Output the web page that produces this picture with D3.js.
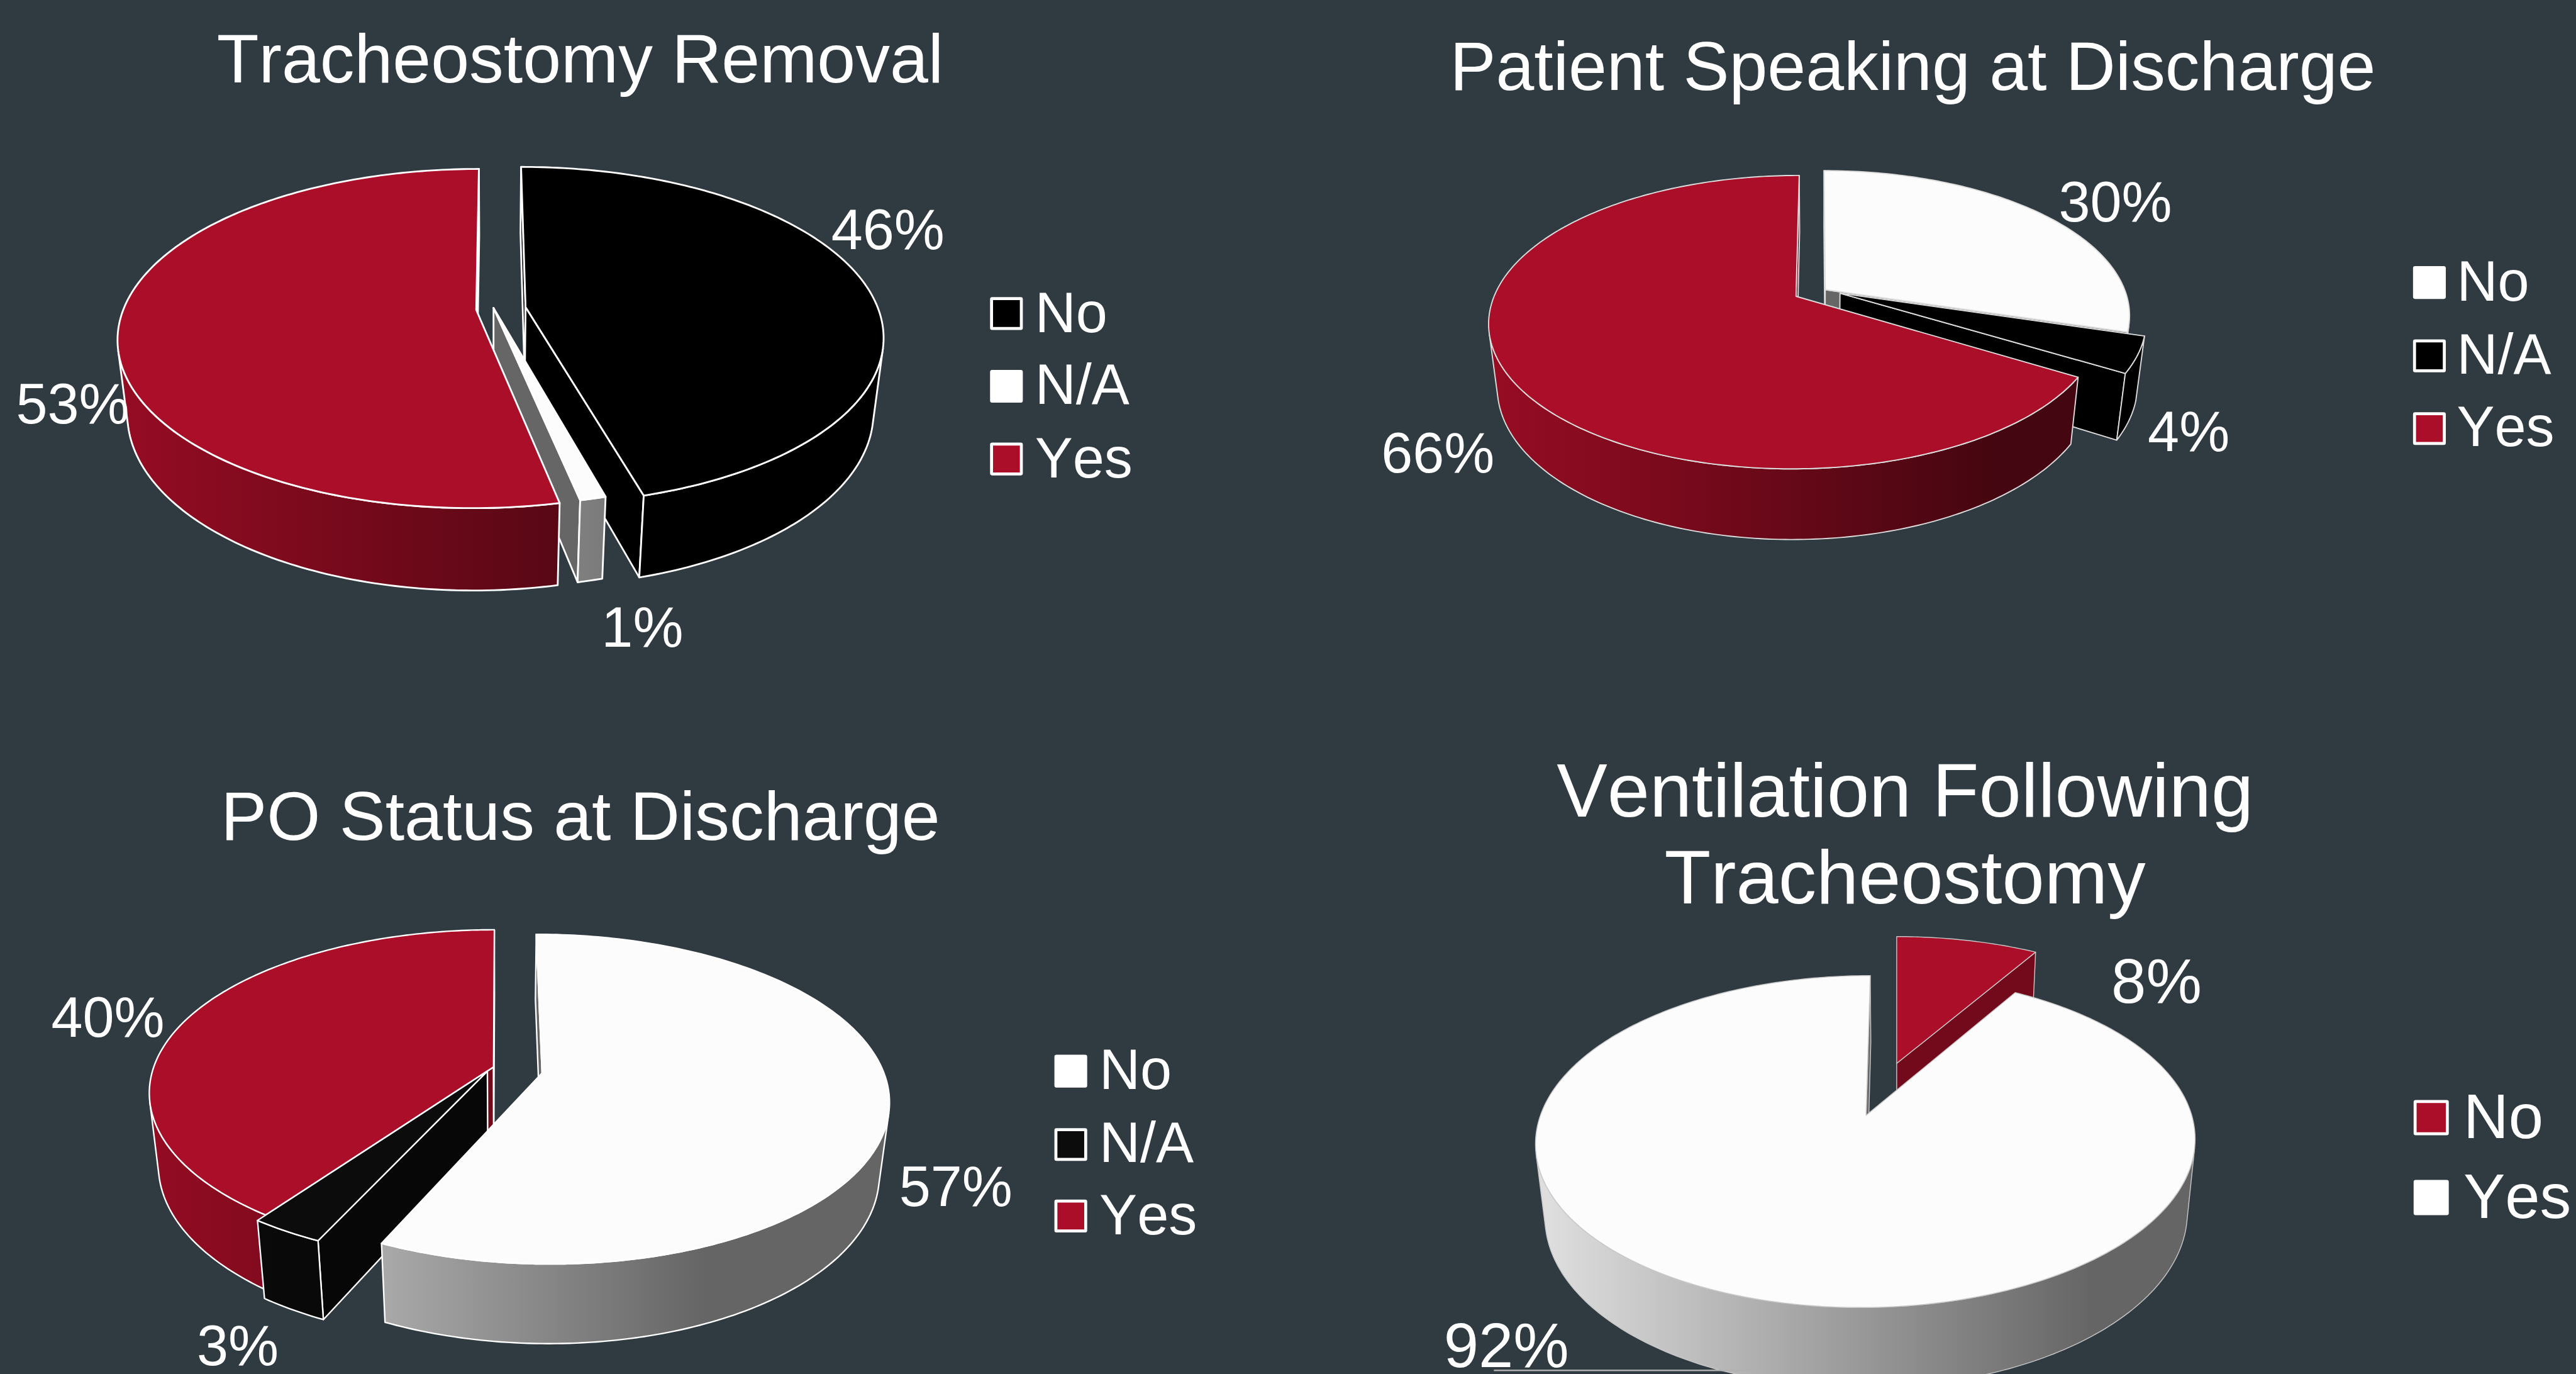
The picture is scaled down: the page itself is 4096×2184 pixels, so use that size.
<!DOCTYPE html>
<html>
<head>
<meta charset="utf-8">
<script src="https://cdn.jsdelivr.net/npm/d3@7"></script>
<style>
  html, body { margin: 0; padding: 0; background: #303a41; overflow: hidden; }
  text { font-family: "Liberation Sans", Arial, sans-serif; fill: #fff; font-kerning: none; }
</style>
</head>
<body>
<div id="chart"></div>
<script>
// values (percent), the slices are a bit off the rounded labels
const removalCats = ["No", "N/A", "Yes"];
const removalVals = [45.7, 1.0, 53.3];
const speakingCats = ["No", "N/A", "Yes"];
const speakingVals = [29.65, 4.0, 66.35];
const poCats = ["No", "N/A", "Yes"];
const poVals = [56.9, 3.0, 40.1];
const ventCats = ["No", "Yes"];
const ventVals = [8.47, 91.53];

// reference size, the viewBox scales everything down to the window
const refW = 4323, refH = 2305;

const svg = d3.select("#chart").append("svg")
  .attr("width", 4096)
  .attr("height", 2184)
  .attr("viewBox", `0 0 ${refW} ${refH}`)
  .style("display", "block");

svg.append("rect").attr("width", refW).attr("height", refH).attr("fill", "#303a41");
const defs = svg.append("defs");

const RED = { top: "#aa0e28", wall: "#730a1c" };
const WHITE = { top: "#fcfcfc", wall: "#666666" };
const BLACK = { top: "#000000", wall: "#000000" };
const COAL = { top: "#0c0c0c", wall: "#070707" };

const charts = [
  {
    title: ["Tracheostomy Removal"], titleX: 973.5, titleY: [138], titleSize: 115.5,
    cats: removalCats, vals: removalVals, skin: [BLACK, WHITE, RED], order: [0, 1, 2],
    cx: 830, ay: 518.7, R: 592, Ry: 276, a: 0.169, H: 127,
    shift: [[0.088, -0.013], [-0.003, -0.008], [-0.052, 0.004]],
    stroke: "#ffffff", strokeW: 3,
    labels: [[1490, 418], [1078, 1085], [122, 710]], labelSize: 95,
    legend: { x: 1664, y: [501, 623, 745], size: 50, textX: 1737, base: [557, 678, 801], fs: 95, skin: ["#000000", "#ffffff", "#aa0e28"] }
  },
  {
    title: ["Patient Speaking at Discharge"], titleX: 3210, titleY: [151], titleSize: 115.5,
    cats: speakingCats, vals: speakingVals, skin: [WHITE, BLACK, RED], order: [0, 1, 2],
    cx: 3050, ay: 490, R: 504, Ry: 236, a: 0.175, H: 108,
    shift: [[0.026, -0.017], [0.075, 0.008], [-0.071, 0.03]],
    stroke: "#dddddd", strokeW: 2,
    labels: [[3550, 372], [3673, 757], [2413, 793]], labelSize: 95,
    legend: { x: 4052, y: [449, 572, 694], size: 50, textX: 4123, base: [504, 627, 748], fs: 95, skin: ["#ffffff", "#000000", "#aa0e28"] }
  },
  {
    title: ["PO Status at Discharge"], titleX: 974, titleY: [1409], titleSize: 115.5,
    cats: poCats, vals: poVals, skin: [WHITE, COAL, RED], order: [2, 1, 0],
    cx: 838, ay: 1795, R: 572, Ry: 268, a: 0.158, H: 124,
    shift: [[0.125, 0.019], [-0.035, 0.007], [-0.017, -0.019]],
    stroke: "#ffffff", strokeW: 2.5,
    labels: [[1604, 2023], [399, 2290], [181, 1739]], labelSize: 95,
    legend: { x: 1772, y: [1772, 1895, 2015], size: 50, textX: 1845, base: [1827, 1949, 2071], fs: 95, skin: ["#ffffff", "#0c0c0c", "#aa0e28"] }
  },
  {
    title: ["Ventilation Following", "Tracheostomy"], titleX: 3197, titleY: [1370, 1516], titleSize: 127.5,
    cats: ventCats, vals: ventVals, skin: [RED, WHITE], order: [0, 1],
    cx: 3183, ay: 1860, R: 543, Ry: 268, a: 0.157, H: 125,
    shift: [[0.0, -0.297], [-0.094, 0.041]],
    stroke: "#c8c8c8", strokeW: 1.5,
    labels: [[3619, 1682], [2528, 2293]], labelSize: 105,
    legend: { x: 4053, y: [1848, 1982], size: 54, textX: 4134, base: [1909, 2043], fs: 105, skin: ["#aa0e28", "#ffffff"] },
    leader: [2507, 2954, 2299]
  }
];

const line = d3.line();
const pie = d3.pie().sort(null).value(d => d);

// shoelace, in y-down coordinates a positive area runs clockwise on screen
function area(pts) {
  return d3.sum(pts, (p, i) => {
    const q = pts[(i + 1) % pts.length];
    return p[0] * q[1] - q[0] * p[1];
  });
}

charts.forEach((c, ci) => {
  const g = svg.append("g");
  const b = 0.026;
  // disk coordinates to screen, near side bigger than far side
  const project = (u, v, w) => {
    const den = 1 - c.a * v + b * w;
    return [c.cx + c.R * u / den, c.ay + (c.Ry * v + c.H * w) / den];
  };

  const left = c.cx - c.R * 1.08, right = c.cx + c.R * 1.08;
  const grad = col => {
    const id = `wall-${ci}-${col.top.slice(1)}`;
    const base = d3.rgb(col.top);
    const lg = defs.append("linearGradient").attr("id", id)
      .attr("gradientUnits", "userSpaceOnUse")
      .attr("x1", left).attr("x2", right).attr("y1", 0).attr("y2", 0);
    [[0, 0.88], [0.78, 0.4], [1, 0.4]].forEach(s => {
      lg.append("stop").attr("offset", s[0])
        .attr("stop-color", d3.rgb(base.r * s[1], base.g * s[1], base.b * s[1]).formatHex());
    });
    return `url(#${id})`;
  };

  const arcs = pie(c.vals);

  c.order.forEach(i => {
    const d = arcs[i], col = c.skin[i], [du, dv] = c.shift[i];
    const step = Math.PI / 180;
    const angles = d3.range(d.startAngle, d.endAngle, step).concat([d.endAngle]);
    const rim = angles.map(t => [Math.sin(t) + du, -Math.cos(t) + dv]);
    const top = rim.map(p => project(p[0], p[1], 0));
    const low = rim.map(p => project(p[0], p[1], 1));
    const apex = project(du, dv, 0), apexLow = project(du, dv, 1);
    const paint = (pts, fill) => g.append("path")
      .attr("d", line(pts) + "Z")
      .attr("fill", fill)
      .attr("stroke", c.stroke)
      .attr("stroke-width", c.strokeW)
      .attr("stroke-linejoin", "round");

    // the two cut faces
    const faces = [
      [apex, top[0], low[0], apexLow],
      [top[top.length - 1], apex, apexLow, low[low.length - 1]]
    ];
    faces.forEach(f => { if (area(f) < 0) paint(f, col.wall); });

    // outer wall, only the runs that face the viewer
    let run = null;
    const flush = () => {
      if (run) paint(run.t.concat(run.l.reverse()), grad(col));
      run = null;
    };
    for (let k = 0; k < top.length - 1; k++) {
      const q = [top[k], top[k + 1], low[k + 1], low[k]];
      if (area(q) < 0) {
        if (!run) run = { t: [top[k]], l: [low[k]] };
        run.t.push(top[k + 1]);
        run.l.push(low[k + 1]);
      } else flush();
    }
    flush();

    // top face
    paint([apex].concat(top), col.top);
  });

  if (c.leader) {
    g.append("line")
      .attr("x1", c.leader[0]).attr("x2", c.leader[1])
      .attr("y1", c.leader[2]).attr("y2", c.leader[2])
      .attr("stroke", "#b0b0b0").attr("stroke-width", 2.5);
  }

  // percentage labels, rounded like the picture's
  g.selectAll("text.pct").data(c.vals).enter().append("text")
    .attr("class", "pct")
    .attr("x", (d, i) => c.labels[i][0])
    .attr("y", (d, i) => c.labels[i][1])
    .attr("text-anchor", "middle")
    .attr("font-size", c.labelSize)
    .text(d => Math.round(d) + "%");

  // title
  g.selectAll("text.ttl").data(c.title).enter().append("text")
    .attr("class", "ttl")
    .attr("x", c.titleX)
    .attr("y", (d, i) => c.titleY[i])
    .attr("text-anchor", "middle")
    .attr("font-size", c.titleSize)
    .text(d => d);

  // legend
  const lg = c.legend;
  g.selectAll("rect.key").data(c.cats).enter().append("rect")
    .attr("class", "key")
    .attr("x", lg.x)
    .attr("y", (d, i) => lg.y[i])
    .attr("width", lg.size).attr("height", lg.size)
    .attr("rx", 1)
    .attr("fill", (d, i) => lg.skin[i])
    .attr("stroke", "#ffffff").attr("stroke-width", 5)
    .attr("stroke-linejoin", "round");
  g.selectAll("text.key").data(c.cats).enter().append("text")
    .attr("class", "key")
    .attr("x", lg.textX)
    .attr("y", (d, i) => lg.base[i])
    .attr("font-size", lg.fs)
    .text(d => d);
});
</script>
</body>
</html>
